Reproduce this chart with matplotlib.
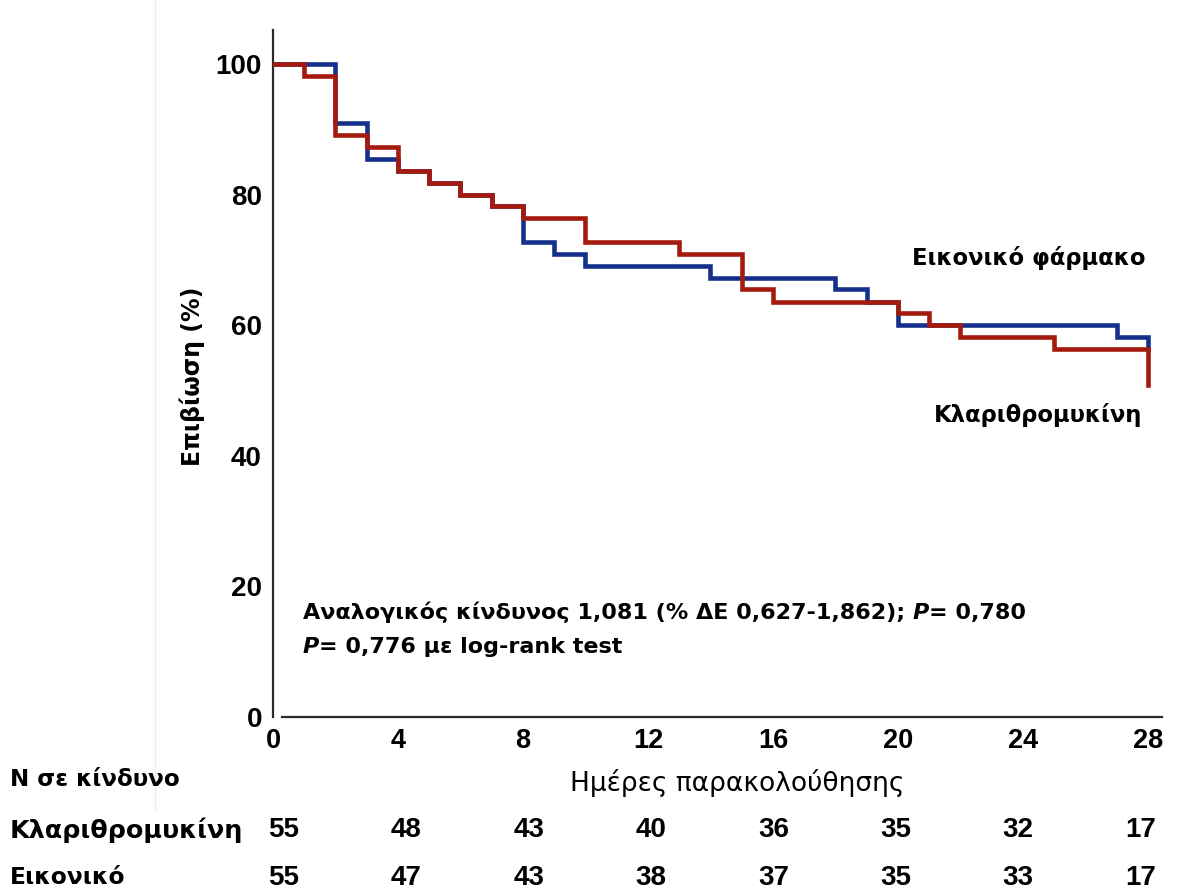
import os
import matplotlib
matplotlib.use("Agg")
import matplotlib.pyplot as plt
from matplotlib import font_manager as fm
from matplotlib.lines import Line2D

# Kaplan-Meier survival steps (%), by follow-up day
placebo_days = [0, 2, 3, 4, 5, 6, 7, 8, 9, 10, 14, 18, 19, 20, 27, 28]
placebo_surv = [100, 90.9, 85.5, 83.6, 81.8, 80.0, 78.2, 72.7, 70.9, 69.1,
                67.3, 65.5, 63.6, 60.0, 58.2, 56.4]

clari_days = [0, 1, 2, 3, 4, 5, 6, 7, 8, 10, 13, 15, 16, 20, 21, 22, 25, 28]
clari_surv = [100, 98.2, 89.1, 87.3, 83.6, 81.8, 80.0, 78.2, 76.4, 72.7,
              70.9, 65.5, 63.6, 61.8, 60.0, 58.2, 56.4, 50.9]

# Numbers at risk
risk_days = [0, 4, 8, 12, 16, 20, 24, 28]
risk_clari = [55, 48, 43, 40, 36, 35, 32, 17]
risk_placebo = [55, 47, 43, 38, 37, 35, 33, 17]

x_ticks = [0, 4, 8, 12, 16, 20, 24, 28]
y_ticks = [0, 20, 40, 60, 80, 100]

BLUE = "#15308a"
RED = "#a51a0e"


def fp(family, size, weight="bold", style="normal"):
    return fm.FontProperties(family=family, size=size, weight=weight, style=style)


NUM = ["Liberation Sans", "DejaVu Sans"]     # numerals
TXT = ["DejaVu Sans"]                         # Greek labels

W, H = 1188, 892
fig = plt.figure(figsize=(W / 100, H / 100), dpi=100)
fig.patch.set_facecolor("white")

# axes placed in pixel units
ax_l, ax_r, ax_b, ax_t = 273, 1162, 717, 30
ax = fig.add_axes([ax_l / W, 1 - ax_b / H, (ax_r - ax_l) / W, (ax_b - ax_t) / H])
ax.set_xlim(0, 28.45)
ax.set_ylim(0, 105.2)

ax.step(placebo_days, placebo_surv, where="post", color=BLUE, lw=3.3,
        solid_joinstyle="miter", zorder=3)
ax.step(clari_days, clari_surv, where="post", color=RED, lw=3.3,
        solid_joinstyle="miter", zorder=4)

for s in ("top", "right"):
    ax.spines[s].set_visible(False)
for s in ("left", "bottom"):
    ax.spines[s].set_color("#2a2a2a")
    ax.spines[s].set_linewidth(1.6)
ax.spines["bottom"].set_bounds(0.3, 28.45)

ax.set_xticks(x_ticks)
ax.set_yticks(y_ticks)
ax.set_xticklabels([str(v) for v in x_ticks], fontproperties=fp(NUM, 19.5))
ax.set_yticklabels([str(v) for v in y_ticks], fontproperties=fp(NUM, 20))
ax.tick_params(axis="both", length=0)
ax.tick_params(axis="x", pad=8)
ax.tick_params(axis="y", pad=8)

# y-axis title
fig.text(192 / W, 1 - 376 / H, "Επιβίωση (%)", rotation=90, ha="center",
         va="center", fontproperties=fp(TXT, 17))

# curve labels
fig.text(1145 / W, 1 - 258 / H, "Εικονικό φάρμακο", ha="right", va="center",
         fontproperties=fp(TXT, 16.3))
fig.text(1142 / W, 1 - 415 / H, "Κλαριθρομυκίνη", ha="right", va="center",
         fontproperties=fp(TXT, 16.3))

# hazard ratio annotation, mixing upright and italic runs on one baseline
renderer = fig.canvas.get_renderer()


def inline(x_px, y_px, parts, size=16.05):
    x = x_px
    for txt, style in parts:
        t = fig.text(x / W, 1 - y_px / H, txt, ha="left", va="baseline",
                     fontproperties=fp(TXT, size, style=style))
        x = t.get_window_extent(renderer).x1


inline(303, 619, [("Αναλογικός κίνδυνος 1,081 (% ΔΕ 0,627-1,862); ", "normal"),
                  ("P", "italic"), ("= 0,780", "normal")])
inline(303, 653, [("P", "italic"), ("= 0,776 με log-rank test", "normal")])

# x-axis title
fig.text(737 / W, 1 - 783 / H, "Ημέρες παρακολούθησης", ha="center",
         va="center", fontproperties=fp(TXT, 19, weight="normal"))

# numbers-at-risk table
fig.text(10 / W, 1 - 780 / H, "N σε κίνδυνο", ha="left", va="center",
         fontproperties=fp(TXT, 16.6))
fig.text(10 / W, 1 - 830 / H, "Κλαριθρομυκίνη", ha="left", va="center",
         fontproperties=fp(TXT, 18.3))
fig.text(10 / W, 1 - 878 / H, "Εικονικό", ha="left", va="center",
         fontproperties=fp(TXT, 16.8))

# the at-risk columns sit slightly inside the outer day ticks
row_tf = ax.get_xaxis_transform()
col_x = [0.35 + 0.979 * d for d in risk_days]
for row_y, counts in ((830, risk_clari), (878, risk_placebo)):
    for cx, n in zip(col_x, counts):
        ax.annotate(str(n), xy=(cx, 0), xycoords=row_tf,
                    xytext=(0, -(row_y - ax_b)), textcoords="offset pixels",
                    ha="center", va="center", fontproperties=fp(NUM, 20),
                    annotation_clip=False)

# faint frame line on the left
fig.add_artist(Line2D([155 / W, 155 / W], [1 - 810 / H, 1.0],
                      transform=fig.transFigure, color="#ececec", lw=1))

fig.savefig("out.png", dpi=100, facecolor="white")
